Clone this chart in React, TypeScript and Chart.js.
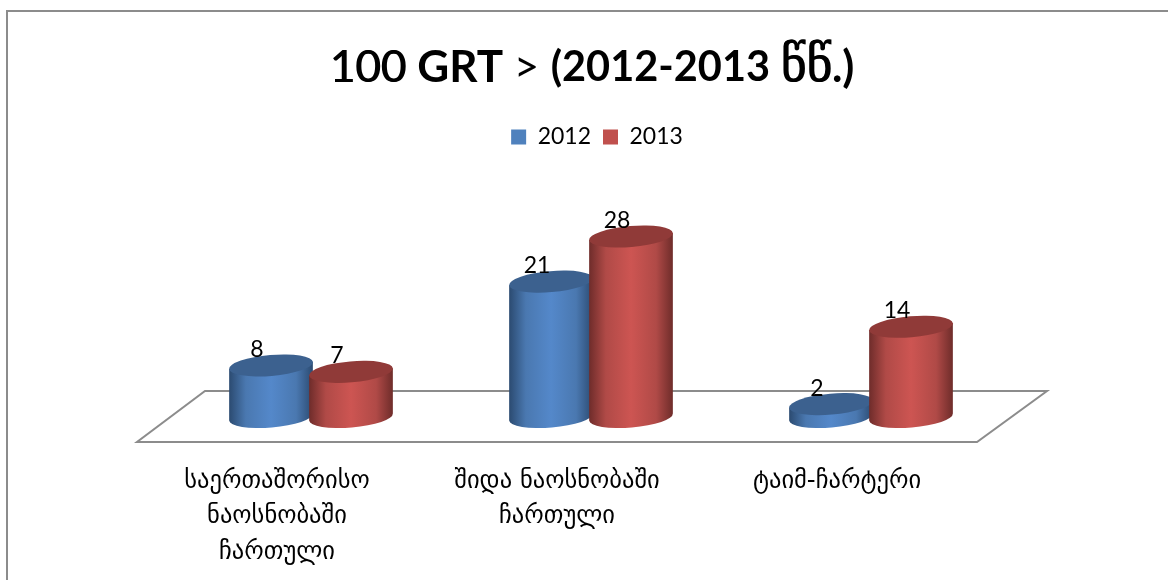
import React, { useEffect, useRef } from "react";
import { Chart, registerables } from "chart.js";

Chart.register(...registerables);

const categories = [
  ["საერთაშორისო", "ნაოსნობაში", "ჩართული"],
  ["შიდა ნაოსნობაში", "ჩართული"],
  "ტაიმ-ჩარტერი",
];
const values2012 = [8, 21, 2];
const values2013 = [7, 28, 14];
const seriesNames = ["2012", "2013"];
const seriesColors = ["#4F81BD", "#C0504D"];
const titleRuns = [
  { text: "100 ", weight: "normal", family: "Lato", size: 44, thicken: 1 },
  { text: "GRT ", weight: "bold", family: "Lato", size: 44, thicken: 0 },
  { text: "> ", weight: "normal", family: "Lato", size: 44, thicken: 0 },
  { text: "(2012-2013 ", weight: "bold", family: "Lato", size: 41.5, thicken: 0 },
  { text: "წწ", weight: "normal", family: "'DejaVu Sans'", size: 50, thicken: 1 },
  { text: ".)", weight: "bold", family: "Lato", size: 44, thicken: 0 },
];
const titleText = titleRuns.map((r) => r.text).join("");

const DEPTH_X = 68;
const DEPTH_Y = 51;
const FLOOR_LIFT = 25;
const RY = 10.5;
const ROT = -0.085;
const HEADER_SHIFT = 35;

const shades = [
  { edge: "#2B4A70", mid: "#4A78B0", light: "#5488CA", top: "#3C618F" },
  { edge: "#6E2C2A", mid: "#B04A47", light: "#CD5552", top: "#903A38" },
];

function drawCylinder(ctx: CanvasRenderingContext2D, el: any, s: any) {
  const cx = el.x + DEPTH_X / 2;
  const ty = el.y - FLOOR_LIFT;
  const by = el.base - FLOOR_LIFT;
  const rx = el.width / 2;
  const dxE = rx * Math.cos(ROT);
  const dyE = rx * Math.sin(ROT);
  const g = ctx.createLinearGradient(cx - rx, 0, cx + rx, 0);
  g.addColorStop(0, s.edge);
  g.addColorStop(0.2, s.mid);
  g.addColorStop(0.5, s.light);
  g.addColorStop(0.8, s.mid);
  g.addColorStop(1, s.edge);
  ctx.beginPath();
  ctx.moveTo(cx + dxE, ty + dyE);
  ctx.lineTo(cx + dxE, by + dyE);
  ctx.ellipse(cx, by, rx, RY, ROT, 0, Math.PI);
  ctx.lineTo(cx - dxE, ty - dyE);
  ctx.closePath();
  ctx.fillStyle = g;
  ctx.fill();
  ctx.beginPath();
  ctx.ellipse(cx, ty, rx, RY, ROT, 0, Math.PI * 2);
  ctx.fillStyle = s.top;
  ctx.fill();
}

function drawTitleRuns(block: any) {
  const ctx = block.ctx;
  const center = (block.left + block.right) / 2;
  const midY = (block.top + block.options.padding.top + (block.top + block.height - block.options.padding.bottom)) / 2;
  ctx.save();
  ctx.fillStyle = block.options.color;
  ctx.textBaseline = "middle";
  ctx.textAlign = "left";
  const fontOf = (r: any) => `${r.weight} ${r.size}px ${r.family}, sans-serif`;
  let total = 0;
  titleRuns.forEach((r) => {
    ctx.font = fontOf(r);
    total += ctx.measureText(r.text).width;
  });
  let x = center - total / 2;
  titleRuns.forEach((r) => {
    ctx.font = fontOf(r);
    ctx.fillText(r.text, x, midY);
    if (r.thicken) {
      ctx.fillText(r.text, x + r.thicken, midY);
    }
    x += ctx.measureText(r.text).width;
  });
  ctx.restore();
}

const scenePlugin = {
  id: "scene",
  afterLayout(chart: any) {
    [chart.titleBlock, chart.legend].forEach((b: any) => {
      b.left += HEADER_SHIFT;
      b.right += HEADER_SHIFT;
    });
    chart.legend.left += 5;
    chart.legend.right += 5;
    chart.titleBlock.draw = function () {
      drawTitleRuns(this);
    };
  },
  beforeDraw(chart: any) {
    const { ctx, chartArea } = chart;
    ctx.save();
    ctx.fillStyle = "#FFFFFF";
    ctx.fillRect(0, 0, chart.width, chart.height);
    ctx.strokeStyle = "#8C8C8C";
    ctx.lineWidth = 2;
    ctx.beginPath();
    ctx.moveTo(7, 580);
    ctx.lineTo(7, 11);
    ctx.lineTo(1168, 11);
    ctx.stroke();
    const { left, right, bottom } = chartArea;
    ctx.beginPath();
    ctx.moveTo(left, bottom);
    ctx.lineTo(right, bottom);
    ctx.lineTo(right + DEPTH_X + 2, bottom - DEPTH_Y);
    ctx.lineTo(left + DEPTH_X, bottom - DEPTH_Y);
    ctx.closePath();
    ctx.stroke();
    ctx.restore();
  },
  beforeDatasetsDraw(chart: any) {
    const ctx = chart.ctx;
    ctx.save();
    chart.data.datasets.forEach((ds: any, i: number) => {
      chart.getDatasetMeta(i).data.forEach((el: any) => drawCylinder(ctx, el, shades[i]));
    });
    ctx.fillStyle = "#000";
    ctx.font = "23px Lato, sans-serif";
    ctx.textAlign = "center";
    ctx.textBaseline = "middle";
    chart.data.datasets.forEach((ds: any, i: number) => {
      chart.getDatasetMeta(i).data.forEach((el: any, j: number) => {
        ctx.fillText(String(ds.data[j]), el.x + DEPTH_X / 2 - 14, el.y - FLOOR_LIFT - 16);
      });
    });
    ctx.restore();
    return false;
  },
};

export default function App() {
  const ref = useRef<HTMLCanvasElement>(null);
  useEffect(() => {
    document.body.style.margin = "0";
    const chart = new Chart(ref.current!, {
      type: "bar",
      data: {
        labels: categories as any,
        datasets: [
          { label: seriesNames[0], data: values2012, backgroundColor: seriesColors[0], categoryPercentage: 0.5714, barPercentage: 1.05 },
          { label: seriesNames[1], data: values2013, backgroundColor: seriesColors[1], categoryPercentage: 0.5714, barPercentage: 1.05 },
        ],
      },
      options: {
        responsive: false,
        animation: false,
        layout: { padding: { left: 137, right: 191, top: 41.6, bottom: 0 } },
        plugins: {
          title: {
            display: true,
            text: titleText,
            color: "#000",
            font: { family: "Lato, 'DejaVu Sans', sans-serif", size: 44, weight: "bold" },
            padding: { top: 0, bottom: 19 },
          },
          legend: {
            position: "top",
            labels: {
              color: "#000",
              font: { family: "Lato, sans-serif", size: 23 },
              boxWidth: 15,
              boxHeight: 15,
              padding: 12,
            },
          },
          tooltip: { enabled: false },
        },
        scales: {
          x: {
            grid: { display: false },
            border: { display: false },
            ticks: {
              color: "#000",
              font: { family: "'DejaVu Sans', sans-serif", size: 24.5, lineHeight: 1.44 },
              maxRotation: 0,
              autoSkip: false,
              padding: 14,
            },
            afterFit: (s: any) => {
              s.height = 138;
            },
          },
          y: { display: false, min: 0, max: 44 },
        },
      },
      plugins: [scenePlugin],
    } as any);
    return () => chart.destroy();
  }, []);
  return <canvas ref={ref} width={1168} height={580} style={{ display: "block" }} />;
}
